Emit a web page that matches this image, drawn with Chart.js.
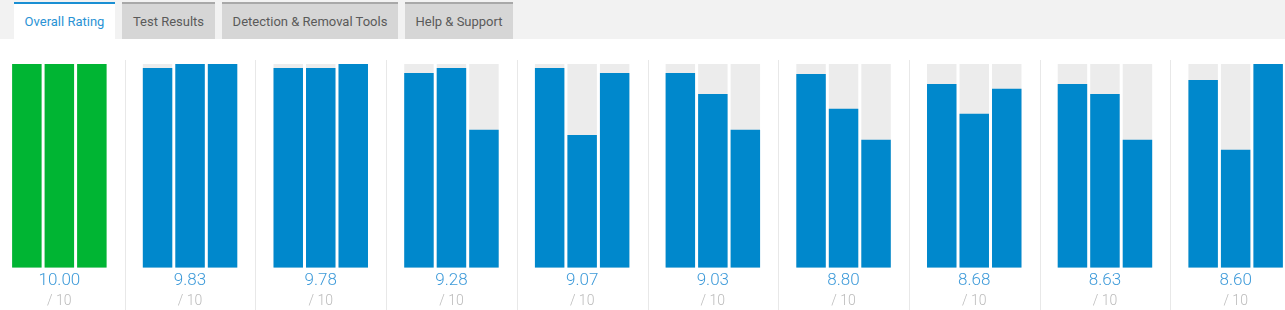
<!DOCTYPE html>
<html>
<head>
<meta charset="utf-8">
<script src="https://cdn.jsdelivr.net/npm/chart.js@4/dist/chart.umd.min.js"></script>
<style>
  html, body { margin: 0; padding: 0; background: #ffffff; width: 1285px; height: 310px; overflow: hidden; font-family: Roboto, "Open Sans", sans-serif; }
  #strip { position: absolute; left: 0; top: 0; width: 1285px; height: 39px; background: #f2f2f2; }
  .tab { position: absolute; top: 2px; height: 35px; border-top: 2px solid #a8a8a8; background: #d6d6d6; color: #5a5a5a; font-size: 13px; font-weight: 400; line-height: 35px; text-align: center; box-sizing: content-box; }
  .tab.active { background: #ffffff; border-top-color: #1a8fd3; color: #2a93d5; height: 35px; }
  #wrap { position: absolute; left: -6px; top: 40px; width: 1307px; height: 270px; }
</style>
</head>
<body>
<div id="strip">
  <div class="tab active" style="left:14px;width:101px;">Overall Rating</div>
  <div class="tab" style="left:122px;width:93px;">Test Results</div>
  <div class="tab" style="left:222px;width:176px;">Detection &amp; Removal Tools</div>
  <div class="tab" style="left:405px;width:108px;">Help &amp; Support</div>
</div>
<div id="wrap"><canvas id="c" width="1307" height="270"></canvas></div>
<script>
// Overall score labels (one per product column)
const scores = ['10.00', '9.83', '9.78', '9.28', '9.07', '9.03', '8.80', '8.68', '8.63', '8.60'];
// Three sub-ratings per product, out of 10
const criterion1 = [10, 9.80, 9.80, 9.56, 9.80, 9.56, 9.51, 9.02, 9.02, 9.22];
const criterion2 = [10, 10.0, 9.80, 9.80, 6.52, 8.53, 7.80, 7.56, 8.53, 5.79];
const criterion3 = [10, 10.0, 10.0, 6.77, 9.56, 6.77, 6.28, 8.78, 6.28, 10.0];
// Maximum possible rating (grey track behind each bar)
const maxScore = [10, 10, 10, 10, 10, 10, 10, 10, 10, 10];
const outOf = '/ 10';

const BLUE = '#0088cc', GREEN = '#00b533', TRACK = '#ececec';
const fillFor = ctx => ctx.dataIndex === 0 ? GREEN : BLUE;

const separators = {
  id: 'separators',
  beforeDatasetsDraw(chart) {
    const xs = chart.scales.x, ctx = chart.ctx;
    ctx.save();
    ctx.strokeStyle = '#e8e8e8';
    ctx.lineWidth = 1;
    for (let i = 1; i < scores.length; i++) {
      const x = Math.round((xs.getPixelForValue(i - 1) + xs.getPixelForValue(i)) / 2) + 0.5;
      ctx.beginPath();
      ctx.moveTo(x, 20);
      ctx.lineTo(x, chart.height);
      ctx.stroke();
    }
    ctx.restore();
  }
};

const mk = (data, stack, color, order) => ({
  data, stack, backgroundColor: color, order,
  categoryPercentage: 0.746, barPercentage: 0.907, borderWidth: 0
});

new Chart(document.getElementById('c'), {
  type: 'bar',
  data: {
    labels: scores,
    datasets: [
      mk(criterion1, 'a', fillFor, 0),
      mk(criterion2, 'b', fillFor, 0),
      mk(criterion3, 'c', fillFor, 0),
      mk(maxScore, 'a', TRACK, 1),
      mk(maxScore, 'b', TRACK, 1),
      mk(maxScore, 'c', TRACK, 1)
    ]
  },
  options: {
    responsive: false,
    animation: false,
    events: [],
    layout: { padding: { top: 24, bottom: 0, left: 0, right: 0 } },
    plugins: { legend: { display: false }, tooltip: { enabled: false } },
    scales: {
      y: { display: false, min: 0, max: 10, stacked: false },
      x: {
        stacked: true,
        border: { display: false },
        grid: { display: false, drawTicks: false },
        ticks: { color: '#3d9ad9', padding: 2.5, font: { family: 'Roboto', size: 17, weight: '300' }, maxRotation: 0, autoSkip: false }
      },
      x2: {
        type: 'category',
        labels: scores,
        position: 'bottom',
        border: { display: false },
        grid: { display: false, drawTicks: false },
        ticks: { color: '#bbbbbb', padding: 0, font: { family: 'Roboto', size: 14, weight: '300' }, maxRotation: 0, autoSkip: false, callback: () => outOf }
      }
    }
  },
  plugins: [separators]
});
</script>
</body>
</html>
